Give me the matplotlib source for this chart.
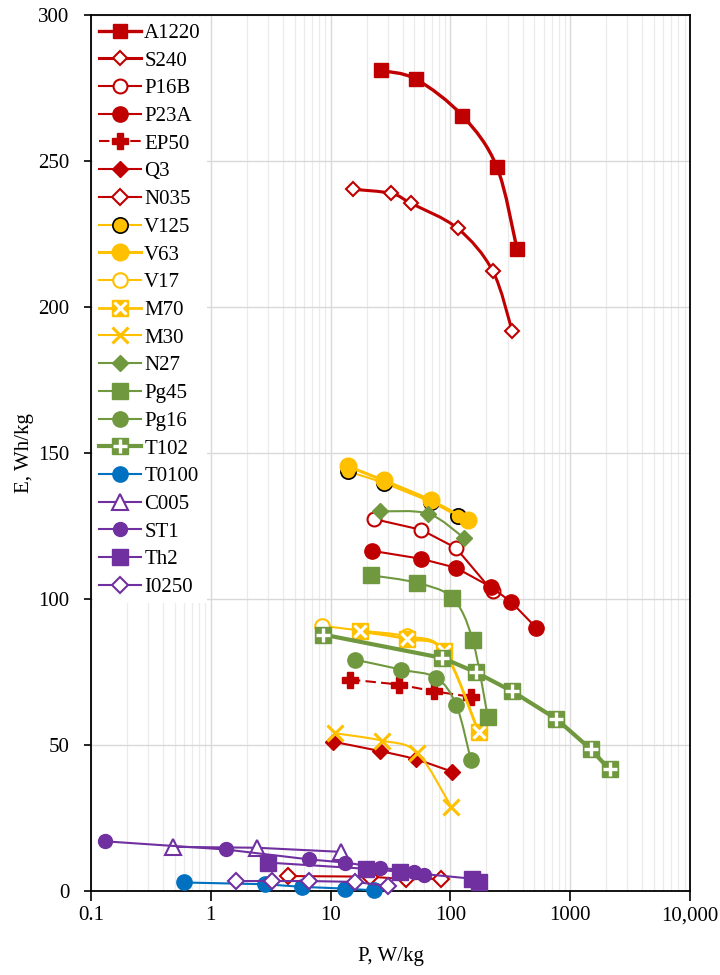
import numpy as np
import matplotlib
matplotlib.use('Agg')
import matplotlib.pyplot as plt
from matplotlib.lines import Line2D
from matplotlib.path import Path
from matplotlib.patches import PathPatch
from matplotlib.legend_handler import HandlerTuple
from matplotlib.ticker import LogLocator, NullFormatter

plt.rcParams['font.family'] = ['Liberation Serif', 'DejaVu Serif']

RED = '#C00000'
GOLD = '#FFC000'
GREEN = '#70983F'
BLUE = '#0070C0'
PURPLE = '#7030A0'

# Ragone data: power P (W/kg) and energy E (Wh/kg) per cell
a1220_p = [26.3, 51.7, 126, 244, 359]
a1220_e = [281, 278, 265.5, 248, 220]
s240_p = [15.5, 32.1, 47, 115, 225, 327]
s240_e = [240.3, 238.9, 235.5, 226.9, 212.4, 191.9]
p16b_p = [22.9, 57, 111, 225]
p16b_e = [127.4, 123.7, 117.5, 102.6]
p23a_p = [22.1, 56.3, 111, 218, 321, 521]
p23a_e = [116.5, 113.8, 110.7, 104.1, 99.0, 90.1]
ep50_p = [14.5, 37.1, 72.5, 148]
ep50_e = [72.4, 70.7, 68.4, 66.5]
q3_p = [10.5, 25.9, 51.2, 104]
q3_e = [51.1, 47.9, 45.1, 40.8]
n035_p = [4.39, 21.5, 42.3, 83]
n035_e = [5.1, 4.9, 4.0, 4.2]
v125_p = [13.9, 27.7, 68.3, 115]
v125_e = [143.7, 139.7, 133.2, 128.3]
v63_p = [13.9, 27.7, 68.3, 139]
v63_e = [145.4, 140.6, 133.8, 126.9]
v17_p = [8.5, 17.6, 43.5, 88, 172]
v17_e = [90.8, 89.2, 87.2, 82.3, 54.5]
m70_p = [17.6, 43.5, 88.5, 172]
m70_e = [88.9, 86.3, 82.1, 54.3]
m30_p = [10.9, 26.8, 52.8, 102]
m30_e = [54.0, 51.5, 47.4, 28.7]
n27_p = [25.9, 65.3, 130]
n27_e = [130.0, 129.2, 120.9]
pg45_p = [21.8, 52.8, 104, 153, 205]
pg45_e = [108.1, 105.5, 100.3, 86.1, 59.6]
pg16_p = [16.0, 39.0, 76.2, 112, 148]
pg16_e = [79.2, 75.8, 73.0, 63.6, 44.9]
t102_p = [8.69, 85.7, 163, 327, 767, 1480, 2128]
t102_e = [87.8, 79.8, 74.9, 68.4, 58.9, 48.6, 41.6]
t0100_p = [0.598, 2.84, 5.76, 13.3, 23.0]
t0100_e = [2.9, 2.3, 1.4, 0.8, 0.2]
c005_p = [0.484, 2.42, 12.1]
c005_e = [15.1, 14.8, 13.4]
st1_p = [0.131, 1.33, 6.64, 13.3, 25.6, 49.6, 60.2]
st1_e = [17.0, 14.2, 10.8, 9.7, 8.0, 6.6, 5.4]
th2_p = [3.03, 19.8, 37.7, 151, 174]
th2_e = [9.7, 7.6, 6.6, 4.2, 3.1]
i0250_p = [1.61, 3.27, 6.55, 15.9, 30.3]
i0250_e = [3.4, 3.4, 3.4, 3.1, 1.7]

xtick_vals = [0.1, 1, 10, 100, 1000, 10000]
xtick_labels = ['0.1', '1', '10', '100', '1000', '10,000']
ytick_vals = [0, 50, 100, 150, 200, 250, 300]

# name, P, E, line style, marker style, overlay marker (or None), smoothed line
series = [
    ('A1220', a1220_p, a1220_e, dict(color=RED, lw=2.4), dict(marker='s', ms=10, mfc=RED, mec=RED), None, True),
    ('S240', s240_p, s240_e, dict(color=RED, lw=2.2), dict(marker='D', ms=7.5, mfc='white', mec=RED, mew=1.5), None, True),
    ('P16B', p16b_p, p16b_e, dict(color=RED, lw=1.5), dict(marker='o', ms=10, mfc='white', mec=RED, mew=1.5), None, False),
    ('P23A', p23a_p, p23a_e, dict(color=RED, lw=1.5), dict(marker='o', ms=11, mfc=RED, mec=RED), None, False),
    ('EP50', ep50_p, ep50_e, dict(color=RED, lw=1.5, ls=(0, (5, 2.5))), dict(marker='P', ms=11, mfc=RED, mec=RED), None, False),
    ('Q3', q3_p, q3_e, dict(color=RED, lw=1.5), dict(marker='D', ms=8.5, mfc=RED, mec=RED), None, True),
    ('N035', n035_p, n035_e, dict(color=RED, lw=1.5), dict(marker='D', ms=8.5, mfc='white', mec=RED, mew=1.5), None, False),
    ('V125', v125_p, v125_e, dict(color=GOLD, lw=1.5), dict(marker='o', ms=11, mfc=GOLD, mec='black', mew=1.2), None, True),
    ('V63', v63_p, v63_e, dict(color=GOLD, lw=2.2), dict(marker='o', ms=12, mfc=GOLD, mec=GOLD), None, True),
    ('V17', v17_p, v17_e, dict(color=GOLD, lw=1.5), dict(marker='o', ms=10.5, mfc='white', mec=GOLD, mew=1.5), None, True),
    ('M70', m70_p, m70_e, dict(color=GOLD, lw=2.0), dict(marker='s', ms=11.5, mfc=GOLD, mec=GOLD),
     dict(marker='x', ms=8.5, mec='white', mew=2.2), True),
    ('M30', m30_p, m30_e, dict(color=GOLD, lw=1.5), dict(marker='x', ms=11, mec=GOLD, mew=2.2), None, True),
    ('N27', n27_p, n27_e, dict(color=GREEN, lw=1.5), dict(marker='D', ms=8.5, mfc=GREEN, mec=GREEN), None, True),
    ('Pg45', pg45_p, pg45_e, dict(color=GREEN, lw=1.5), dict(marker='s', ms=11, mfc=GREEN, mec=GREEN), None, True),
    ('Pg16', pg16_p, pg16_e, dict(color=GREEN, lw=1.5), dict(marker='o', ms=11, mfc=GREEN, mec=GREEN), None, True),
    ('T102', t102_p, t102_e, dict(color=GREEN, lw=3.0), dict(marker='s', ms=11.5, mfc=GREEN, mec=GREEN),
     dict(marker='+', ms=9.5, mec='white', mew=2.4), False),
    ('T0100', t0100_p, t0100_e, dict(color=BLUE, lw=1.5), dict(marker='o', ms=11, mfc=BLUE, mec=BLUE), None, False),
    ('C005', c005_p, c005_e, dict(color=PURPLE, lw=1.5), dict(marker='^', ms=11, mfc='white', mec=PURPLE, mew=1.5), None, False),
    ('ST1', st1_p, st1_e, dict(color=PURPLE, lw=1.5), dict(marker='o', ms=10, mfc=PURPLE, mec=PURPLE), None, False),
    ('Th2', th2_p, th2_e, dict(color=PURPLE, lw=1.5), dict(marker='s', ms=11, mfc=PURPLE, mec=PURPLE), None, False),
    ('I0250', i0250_p, i0250_e, dict(color=PURPLE, lw=1.5), dict(marker='D', ms=8.5, mfc='white', mec=PURPLE, mew=1.5), None, False),
]


def smooth_path(p, e):
    # Catmull-Rom through the points in (log P, E), written as cubic Beziers
    pts = np.column_stack([np.log10(p), np.asarray(e, float)])
    ext = np.vstack([pts[0], pts, pts[-1]])
    verts = [pts[0]]
    codes = [Path.MOVETO]
    for i in range(len(pts) - 1):
        p0, p1, p2, p3 = ext[i], ext[i + 1], ext[i + 2], ext[i + 3]
        verts += [p1 + (p2 - p0) / 6, p2 - (p3 - p1) / 6, p2]
        codes += [Path.CURVE4] * 3
    verts = np.array(verts)
    verts[:, 0] = 10 ** verts[:, 0]
    return Path(verts, codes)


fig = plt.figure(figsize=(7.2, 9.75), dpi=100)
ax = fig.add_axes([0.1264, 0.0862, 0.832, 0.8984])
ax.set_xscale('log')
ax.set_xlim(0.1, 10000)
ax.set_ylim(0, 300)

handles = []
for k, (name, p, e, lkw, mkw, over, smooth) in enumerate(series):
    z = 3 + k * 0.1
    if smooth:
        patch = PathPatch(smooth_path(p, e), facecolor='none', edgecolor=lkw['color'],
                          lw=lkw['lw'], ls=lkw.get('ls', '-'), zorder=z, clip_on=False,
                          capstyle='round', joinstyle='round')
        ax.add_patch(patch)
    else:
        ax.plot(p, e, color=lkw['color'], lw=lkw['lw'], ls=lkw.get('ls', '-'),
                zorder=z, clip_on=False, solid_joinstyle='round')
    ax.plot(p, e, ls='none', zorder=z + 0.01, clip_on=False, **mkw)
    h = Line2D([], [], color=lkw['color'], lw=lkw['lw'], ls=lkw.get('ls', '-'), **mkw)
    if over is not None:
        ax.plot(p, e, ls='none', zorder=z + 0.02, clip_on=False, **over)
        h = (h, Line2D([], [], ls='none', **over))
    handles.append(h)

ax.set_xticks(xtick_vals)
ax.set_xticklabels(xtick_labels)
ax.xaxis.set_minor_locator(LogLocator(base=10, subs=np.arange(2, 10), numticks=20))
ax.xaxis.set_minor_formatter(NullFormatter())
ax.set_yticks(ytick_vals)

ax.grid(True, which='major', color='#D9D9D9', lw=1.0, zorder=0)
ax.grid(True, which='minor', axis='x', color='#EBEBEB', lw=0.9, zorder=0)
ax.set_axisbelow(True)

ax.tick_params(axis='both', which='major', direction='out', length=5, width=1.2,
               labelsize=15, color='black')
ax.tick_params(axis='y', which='major', pad=10.5)
ax.tick_params(axis='x', which='major', length=7, pad=4)
ax.tick_params(axis='x', which='minor', length=0)
for sp in ax.spines.values():
    sp.set_color('black')
    sp.set_linewidth(1.3)

ax.set_xlabel('P, W/kg', fontsize=15, labelpad=16)
ax.set_ylabel('E, Wh/kg', fontsize=15, labelpad=3)

leg = ax.legend(handles, [s[0] for s in series], loc='upper left', bbox_to_anchor=(0, 1),
                borderaxespad=0.1, fontsize=15, labelspacing=0.39, handlelength=2.0,
                handletextpad=0.15, borderpad=0.3, frameon=True, fancybox=False,
                handler_map={tuple: HandlerTuple(ndivide=1, pad=0)})
leg.get_frame().set_facecolor('white')
leg.get_frame().set_edgecolor('none')
leg.get_frame().set_alpha(1)
leg.set_zorder(10)

fig.savefig('out.png', dpi=100)
